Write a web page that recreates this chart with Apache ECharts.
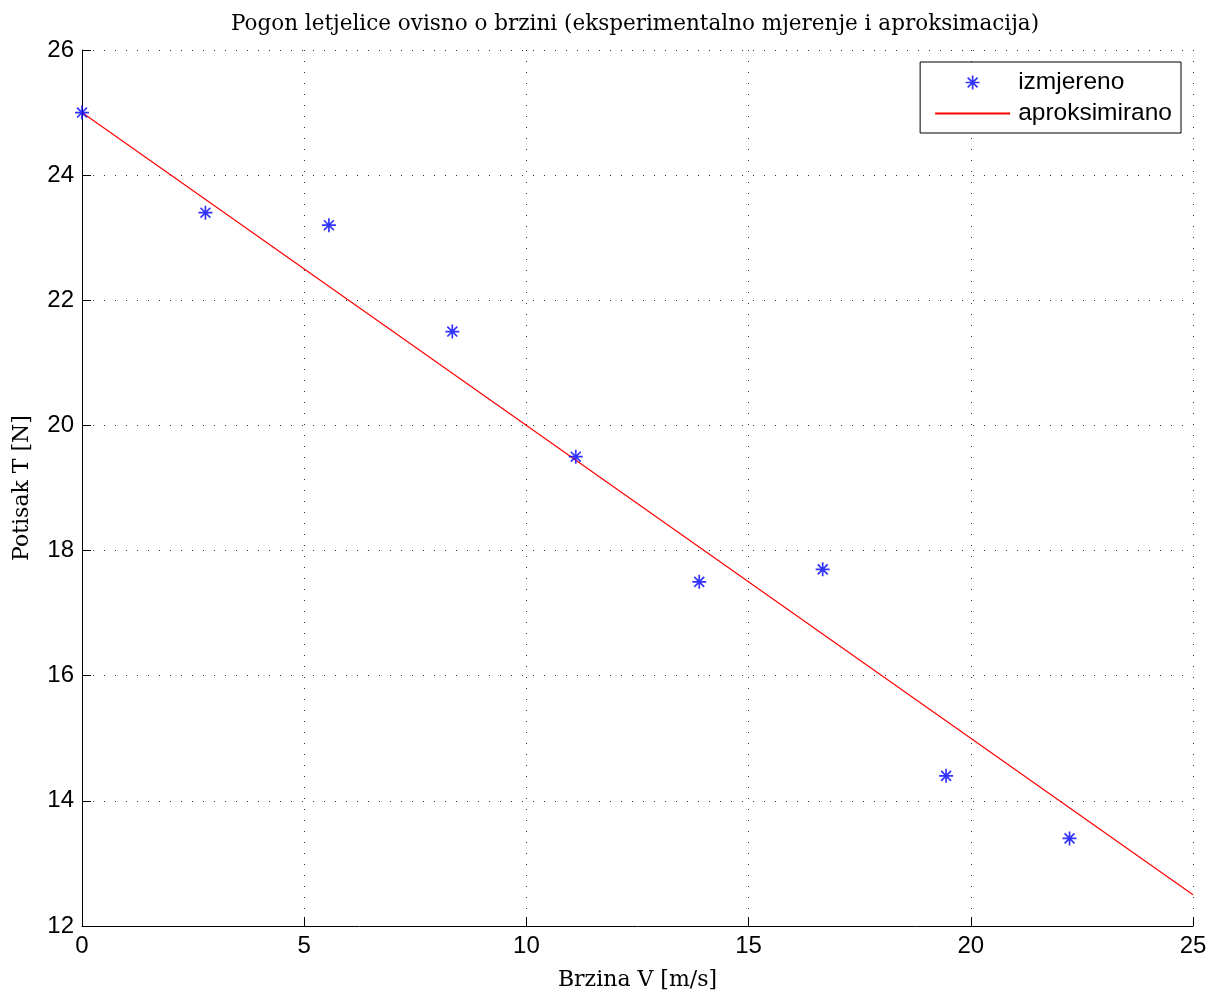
<!DOCTYPE html>
<html>
<head>
<meta charset="utf-8">
<script src="https://cdn.jsdelivr.net/npm/echarts@6/dist/echarts.min.js"></script>
<style>html,body{margin:0;padding:0;background:#fff}#c{width:1220px;height:999px}</style>
</head>
<body>
<div id="c"></div>
<script>
// measured data
const speeds = [0, 2.778, 5.556, 8.333, 11.111, 13.889, 16.667, 19.444, 22.222];
const thrust = [25.0, 23.4, 23.2, 21.5, 19.5, 17.5, 17.7, 14.4, 13.4];
// approximation line endpoints
const fitX = [0, 25];
const fitY = [25.0, 12.5];
const xTicks = [0, 5, 10, 15, 20, 25];
const yTicks = [12, 14, 16, 18, 20, 22, 24, 26];

const star = 'path://M0,-10 L0,10 M-10,0 L10,0 M-7.07,-7.07 L7.07,7.07 M-7.07,7.07 L7.07,-7.07';
const chart = echarts.init(document.getElementById('c'), null, {renderer: 'canvas'});
const gridStyle = {show: true, lineStyle: {color: '#333', width: 1, type: [1, 10]}};
chart.setOption({
  animation: false,
  backgroundColor: '#fff',
  title: {
    text: 'Pogon letjelice ovisno o brzini (eksperimentalno mjerenje i aproksimacija)',
    left: 630, textAlign: 'center', top: 8,
    textStyle: {fontFamily: 'DejaVu Serif', fontWeight: 'normal', fontSize: 21.5, color: '#000'}
  },
  grid: {left: 82, right: 27, top: 50, bottom: 73, containLabel: false, outerBoundsMode: 'none'},
  legend: {
    right: 39, top: 62, orient: 'vertical',
    padding: [8, 9, 7, 14], itemGap: 6,
    borderColor: '#000', borderWidth: 1, backgroundColor: '#fff',
    itemWidth: 75, itemHeight: 14,
    textStyle: {fontFamily: 'Liberation Sans', fontSize: 24.5, color: '#000', padding: [0, 0, 0, 3]},
    data: [
      {name: 'izmjereno', icon: star, itemStyle: {color: 'none', borderColor: '#0000ff', borderWidth: 1.7}},
      {name: 'aproksimirano', itemStyle: {color: 'rgba(0,0,0,0)', borderWidth: 0, opacity: 0}}
    ]
  },
  xAxis: {
    type: 'value', min: 0, max: 25, interval: 5,
    name: 'Brzina V [m/s]', nameLocation: 'middle', nameGap: 43,
    nameTextStyle: {fontFamily: 'DejaVu Serif', fontSize: 22, color: '#000'},
    axisLine: {show: true, onZero: false, lineStyle: {color: '#000', width: 1}},
    axisTick: {show: true, inside: true, length: 9, lineStyle: {color: '#000'}},
    axisLabel: {fontFamily: 'Liberation Sans', fontSize: 24, color: '#000', margin: 8,
      formatter: v => xTicks.includes(v) ? String(v) : ''},
    splitLine: gridStyle
  },
  yAxis: {
    type: 'value', min: 12, max: 26, interval: 2,
    name: 'Potisak T [N]', nameLocation: 'middle', nameGap: 49,
    nameTextStyle: {fontFamily: 'DejaVu Serif', fontSize: 22, color: '#000'},
    axisLine: {show: true, onZero: false, lineStyle: {color: '#000', width: 1}},
    axisTick: {show: true, inside: true, length: 9, lineStyle: {color: '#000'}},
    axisLabel: {fontFamily: 'Liberation Sans', fontSize: 24, color: '#000', margin: 8,
      formatter: v => yTicks.includes(v) ? String(v) : ''},
    splitLine: gridStyle
  },
  series: [
    {
      name: 'izmjereno', type: 'scatter', z: 3,
      symbol: star, symbolSize: 14,
      itemStyle: {color: 'none', borderColor: '#0000ff', borderWidth: 1.7},
      data: speeds.map((x, i) => [x, thrust[i]])
    },
    {
      name: 'aproksimirano', type: 'line', symbol: 'none', z: 2,
      lineStyle: {color: '#ff0000', width: 1.2},
      itemStyle: {color: '#ff0000'},
      data: fitX.map((x, i) => [x, fitY[i]])
    }
  ]
});
</script>
</body>
</html>
